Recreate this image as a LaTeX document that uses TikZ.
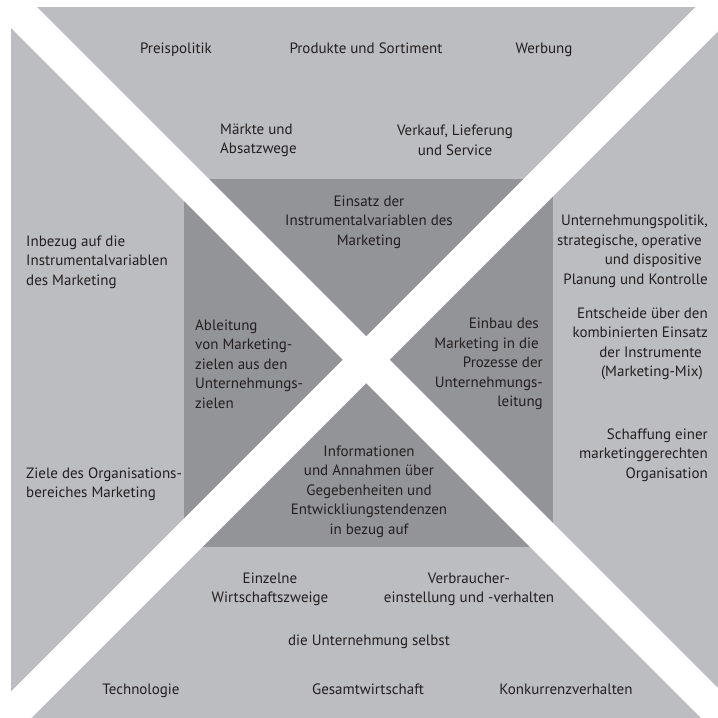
\documentclass[tikz,border=0pt]{standalone}
\usepackage{fontspec}
\setmainfont{PT Sans}
\usepackage{tikz}

\definecolor{outergray}{RGB}{188,189,192}
\definecolor{innergray}{RGB}{147,148,151}
\definecolor{textgray}{RGB}{35,31,32}

\tikzset{
  lbl/.style={inner sep=0pt, text=textgray, align=center,
    font=\fontsize{15}{19.5}\selectfont},
  lbl one/.style={lbl, text height=1ex, text depth=0pt},
  lbl left/.style={lbl, align=left, anchor=west},
  lbl right/.style={lbl, align=right, anchor=east},
  band/.style={white, line width=33.2pt}
}

\begin{document}
\begin{tikzpicture}[x=1pt, y=-1pt]
        \useasboundingbox (0,0) rectangle (718,718);

        % Outer field
        \fill[outergray] (11,7) rectangle (718,718);

        % Inner field
        \fill[innergray] (184,179) rectangle (553,547);

        % White diagonal bands
        \draw[band] (-20,-26.5) -- (740,733.5);
        \draw[band] (-20,746) -- (740,-14);

        % Top segment
        \node[lbl one] (preis) at (176,50.5) {Preispolitik};
        \node[lbl one] (produkte) at (366,50.5) {Produkte und Sortiment};
        \node[lbl one] (werbung) at (544,50.5) {Werbung};
        \node[lbl left] (maerkte) at (220,140.5) {Märkte und\\Absatzwege};
        \node[lbl] (verkauf) at (455,140.5) {Verkauf, Lieferung\\und Service};

        % Left segment
        \node[lbl left] (inbezug) at (26,262) {Inbezug auf die\\Instrumentalvariablen\\des Marketing};
        \node[lbl left] (ziele) at (26,484) {Ziele des Organisations-\\bereiches Marketing};

        % Right segment
        \node[lbl right] (politik) at (708,251.5) {Unternehmungspolitik,\\strategische, operative\kern6pt\\und dispositive\kern6pt\\Planung und Kontrolle};
        \node[lbl right] (entscheide) at (708,344) {Entscheide über den\\kombinierten Einsatz\\der Instrumente\kern6pt\\(Marketing-Mix)\kern5pt};
        \node[lbl right] (schaffung) at (708,455) {Schaffung einer\\marketinggerechten\\Organisation};

        % Inner segments
        \node[lbl] (einsatz) at (369,222) {Einsatz der\\Instrumentalvariablen des\\Marketing};
        \node[lbl left] (ableitung) at (195,364) {Ableitung\\von Marketing-\\zielen aus den\\Unternehmungs-\\zielen};
        \node[lbl right] (einbau) at (543,364) {Einbau des\kern4pt\\Marketing in die\kern4pt\\Prozesse der\\Unternehmungs-\\leitung};
        \node[lbl] (info) at (369,491.5) {Informationen\\und Annahmen über\\Gegebenheiten und\\Entwickliungstendenzen\\in bezug auf};

        % Bottom segment
        \node[lbl] (einzelne) at (270,589.5) {Einzelne\\Wirtschaftszweige};
        \node[lbl] (verbraucher) at (469,589.5) {Verbraucher-\\einstellung und -verhalten};
        \node[lbl one] (selbst) at (369,642.5) {die Unternehmung selbst};
        \node[lbl one] (technologie) at (141,691.5) {Technologie};
        \node[lbl one] (gesamt) at (368,691.5) {Gesamtwirtschaft};
        \node[lbl one] (konkurrenz) at (566,691.5) {Konkurrenzverhalten};
    \end{tikzpicture}
\end{document}
